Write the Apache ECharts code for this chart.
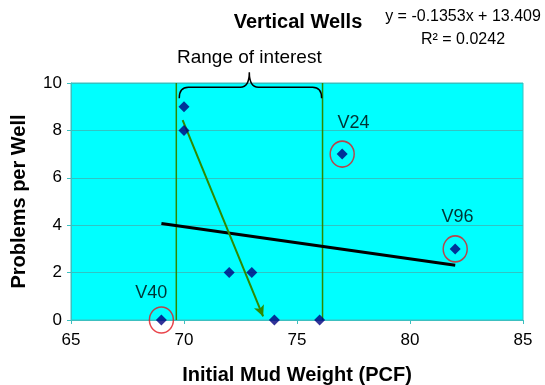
<!DOCTYPE html>
<html>
<head>
<meta charset="utf-8">
<script src="https://cdn.jsdelivr.net/npm/echarts@6/dist/echarts.min.js"></script>
<style>html,body{margin:0;padding:0;background:#fff;}#c{width:545px;height:385px;}</style>
</head>
<body>
<div id="c"></div>
<script>
// ---- data ----
const wellX = [69, 70, 70, 72, 73, 74, 76, 77, 82];
const wellY = [0, 9, 8, 2, 2, 0, 0, 7, 3];
const trendX = [69, 82];
const trendY = [4.07, 2.31];
const rangeBounds = [69.66, 76.13];
const arrowFrom = [69.94, 8.43];
const arrowTo = [73.5, 0.15];
const circledX = [69, 77, 82];
const circledY = [0, 7, 3];
const wellNames = ['V40', 'V24', 'V96'];
const nameX = [68.55, 77.5, 82.1];
const nameY = [1.15, 8.3, 4.35];
const braceX = [69.79, 76.09, 72.89];
const braceY = [9.36, 9.82, 10.45];
const titleText = 'Vertical Wells';
const eqnLines = ['y = -0.1353x + 13.409', 'R\u00B2 = 0.0242'];
const rangeText = 'Range of interest';
const xTitle = 'Initial Mud Weight (PCF)';
const yTitle = 'Problems per Well';

const FONT = '"Liberation Sans", Arial, sans-serif';
const GREEN = '#2F8A00';
const AXIS = '#3CC0C0';

const chart = echarts.init(document.getElementById('c'), null, {renderer: 'canvas'});

const option = {
  animation: false,
  backgroundColor: '#ffffff',
  title: [
    {text: titleText, left: 293, top: 7, textAlign: 'center',
     textStyle: {fontFamily: FONT, fontSize: 20, fontWeight: 'bold', color: '#000'}},
    {text: eqnLines.join('\n'), left: 458, top: 0, textAlign: 'center',
     textStyle: {fontFamily: FONT, fontSize: 16, fontWeight: 'normal', color: '#000', lineHeight: 23}}
  ],
  grid: {left: 71, right: 22, top: 83, bottom: 65, show: true, backgroundColor: '#00FFFF',
         borderColor: AXIS, borderWidth: 1, outerBoundsMode: 'none', containLabel: false},
  xAxis: {
    type: 'value', min: 65, max: 85, interval: 5,
    name: xTitle, nameLocation: 'middle', nameGap: 45,
    nameTextStyle: {fontFamily: FONT, fontSize: 20, fontWeight: 'bold', color: '#000'},
    axisLine: {show: true, lineStyle: {color: AXIS, width: 1}},
    axisTick: {show: true, length: 4, lineStyle: {color: AXIS}},
    axisLabel: {fontFamily: FONT, fontSize: 17, color: '#000', margin: 12},
    splitLine: {show: false}
  },
  yAxis: {
    type: 'value', min: 0, max: 10, interval: 2,
    name: yTitle, nameLocation: 'middle', nameGap: 42, nameRotate: 90,
    nameTextStyle: {fontFamily: FONT, fontSize: 20, fontWeight: 'bold', color: '#000'},
    axisLine: {show: true, lineStyle: {color: AXIS, width: 1}},
    axisTick: {show: true, length: 4, lineStyle: {color: AXIS}},
    axisLabel: {fontFamily: FONT, fontSize: 17, color: '#000', margin: 9},
    splitLine: {show: true, lineStyle: {color: '#30C4C4', width: 1}}
  },
  series: [
    {
      type: 'line', name: 'rangeLow', z: 2, symbol: 'none', silent: true,
      data: [[rangeBounds[0], 0], [rangeBounds[0], 10]],
      lineStyle: {color: GREEN, width: 1.5}
    },
    {
      type: 'line', name: 'rangeHigh', z: 2, symbol: 'none', silent: true,
      data: [[rangeBounds[1], 0], [rangeBounds[1], 10]],
      lineStyle: {color: GREEN, width: 1.5}
    },
    {
      type: 'line', name: 'trend', z: 3, symbol: 'none', silent: true,
      data: trendX.map((x, i) => [x, trendY[i]]),
      lineStyle: {color: '#000', width: 3}
    },
    {
      type: 'line', name: 'arrowHost', z: 3, symbol: 'none', silent: true, data: [],
      markLine: {
        silent: true, symbol: ['none', 'arrow'], symbolSize: [8, 11],
        label: {show: false},
        lineStyle: {color: GREEN, width: 2, type: 'solid'},
        data: [[{coord: arrowFrom}, {coord: arrowTo}]]
      }
    },
    {
      type: 'custom', name: 'brace', z: 4, clip: false, silent: true,
      data: [[braceX[0], braceX[1], braceX[2], braceY[0], braceY[1], braceY[2]]],
      encode: {x: [0, 1, 2], y: [3, 4, 5]},
      renderItem: function (params, api) {
        const pL = api.coord([api.value(0), api.value(4)]);
        const pR = api.coord([api.value(1), api.value(4)]);
        const pEnd = api.coord([api.value(0), api.value(3)]);
        const pTip = api.coord([api.value(2), api.value(5)]);
        const yH = pL[1], yE = pEnd[1], yT = pTip[1], xT = pTip[0];
        const r = 9;
        const d = 'M' + pL[0] + ',' + yE +
          ' Q' + pL[0] + ',' + yH + ' ' + (pL[0] + r) + ',' + yH +
          ' L' + (xT - r) + ',' + yH +
          ' Q' + xT + ',' + yH + ' ' + xT + ',' + yT +
          ' Q' + xT + ',' + yH + ' ' + (xT + r) + ',' + yH +
          ' L' + (pR[0] - r) + ',' + yH +
          ' Q' + pR[0] + ',' + yH + ' ' + pR[0] + ',' + yE;
        return {
          type: 'group',
          children: [
            {type: 'path', shape: {pathData: d},
             style: {fill: null, stroke: '#000', lineWidth: 1.5}},
            {type: 'text', x: xT, y: yT - 15,
             style: {text: rangeText, fontFamily: FONT, fontSize: 19, fill: '#000',
                     align: 'center', verticalAlign: 'middle'}}
          ]
        };
      }
    },
    {
      type: 'scatter', name: 'wells', z: 6, symbol: 'diamond', symbolSize: 11,
      data: wellX.map((x, i) => [x, wellY[i]]),
      itemStyle: {color: '#000080'}
    },
    {
      type: 'scatter', name: 'circles', z: 7, symbol: 'circle', symbolSize: [24, 26],
      data: circledX.map((x, i) => [x, circledY[i]]),
      itemStyle: {color: 'rgba(0,0,0,0)', borderColor: '#E3161E', borderWidth: 1.5}
    },
    {
      type: 'scatter', name: 'names', z: 8, symbolSize: 1,
      data: nameX.map((x, i) => ({value: [x, nameY[i]], name: wellNames[i]})),
      itemStyle: {color: 'rgba(0,0,0,0)'},
      label: {show: true, position: 'inside', formatter: '{b}',
              fontFamily: FONT, fontSize: 18, color: '#000'}
    }
  ]
};
chart.setOption(option);
</script>
</body>
</html>
